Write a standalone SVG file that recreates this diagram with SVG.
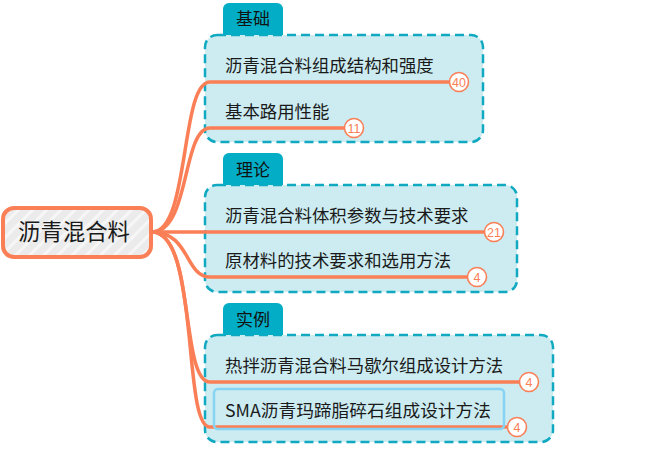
<svg xmlns="http://www.w3.org/2000/svg" width="647" height="464" viewBox="0 0 647 464">
<defs>
<pattern id="hatch" width="10" height="10" patternUnits="userSpaceOnUse" patternTransform="rotate(45)">
<rect width="10" height="10" fill="#ebebeb"/>
<rect x="0" y="0" width="3" height="10" fill="#f6f6f6"/>
</pattern>
<style>
.box{fill:#ccecf1;stroke:#10a9c1;stroke-width:2.5;stroke-dasharray:9 5}
.tab{fill:#03adc5}
.tabt{font-family:"Noto Sans CJK SC","Noto Sans",sans-serif;font-size:17px;fill:#111;text-anchor:middle}
.t{font-family:"Noto Sans CJK SC","Noto Sans",sans-serif;font-size:17.4px;fill:#1a1a1a}
.line{fill:none;stroke:#fa7f57;stroke-width:3.5;stroke-linecap:round}
.badge{fill:#fff;stroke:#fa7f57;stroke-width:1.6}
.bt{font-family:"Liberation Sans",Arial,sans-serif;font-size:12.5px;fill:#fa7f57;text-anchor:middle}
</style>
</defs>
<rect width="647" height="464" fill="#fff"/>

<g id="group-jichu">
<rect class="box" x="205" y="35" width="278" height="107" rx="12"/>
<path class="tab" d="M223,35 V9 a6,6 0 0 1 6,-6 H277 a6,6 0 0 1 6,6 V35 Z"/>
<text class="tabt" x="253" y="25">基础</text>
</g>
<g id="group-lilun">
<rect class="box" x="205" y="185" width="312" height="107" rx="12"/>
<path class="tab" d="M223,185 V159 a6,6 0 0 1 6,-6 H277 a6,6 0 0 1 6,6 V185 Z"/>
<text class="tabt" x="253" y="176">理论</text>
</g>
<g id="group-shili">
<rect class="box" x="205" y="335" width="348" height="107" rx="12"/>
<path class="tab" d="M223,335 V309 a6,6 0 0 1 6,-6 H277 a6,6 0 0 1 6,6 V335 Z"/>
<text class="tabt" x="253" y="326">实例</text>
</g>

<g id="connectors">
<path class="line" d="M152,232 C 190,232 180,82 210,82 L450,82"/>
<path class="line" d="M152,232 C 190,232 182,128 210,128 L345,128"/>
<path class="line" d="M152,232 C 180,232 190,232 210,232 L485,232"/>
<path class="line" d="M152,232 C 190,232 185,277 210,277 L468,277"/>
<path class="line" d="M152,232 C 195,232 180,382 210,382 L520,382"/>
<path class="line" d="M152,232 C 200,232 182,427 210,427 L508,427"/>
</g>

<g id="root">
<rect x="3" y="208" width="148" height="49" rx="11" fill="url(#hatch)" stroke="#fa7f57" stroke-width="4"/>
<text x="18" y="240" font-family="'Noto Sans CJK SC','Noto Sans',sans-serif" font-size="22.4px" fill="#1a1a1a">沥青混合料</text>
</g>

<g id="n1">
<text class="t" x="225" y="72">沥青混合料组成结构和强度</text>
<circle class="badge" cx="459" cy="82" r="9.5"/>
<text class="bt" x="459" y="86.5">40</text>
</g>
<g id="n2">
<text class="t" x="225" y="118">基本路用性能</text>
<circle class="badge" cx="354" cy="128" r="9.5"/>
<text class="bt" x="354" y="132.5">11</text>
</g>
<g id="n3">
<text class="t" x="225" y="222">沥青混合料体积参数与技术要求</text>
<circle class="badge" cx="494" cy="232" r="9.5"/>
<text class="bt" x="494" y="236.5">21</text>
</g>
<g id="n4">
<text class="t" x="225" y="267">原材料的技术要求和选用方法</text>
<circle class="badge" cx="477" cy="277" r="9.5"/>
<text class="bt" x="477" y="281.5">4</text>
</g>
<g id="n5">
<text class="t" x="225" y="372">热拌沥青混合料马歇尔组成设计方法</text>
<circle class="badge" cx="529" cy="382" r="9.5"/>
<text class="bt" x="529" y="386.5">4</text>
</g>
<g id="n6">
<rect x="214" y="389" width="290" height="40" rx="4" fill="none" stroke="#86d3f4" stroke-width="2.5"/>
<text class="t" x="225" y="417" textLength="266" lengthAdjust="spacingAndGlyphs">SMA沥青玛蹄脂碎石组成设计方法</text>
<circle class="badge" cx="517" cy="427" r="9.5"/>
<text class="bt" x="517" y="431.5">4</text>
</g>
</svg>
